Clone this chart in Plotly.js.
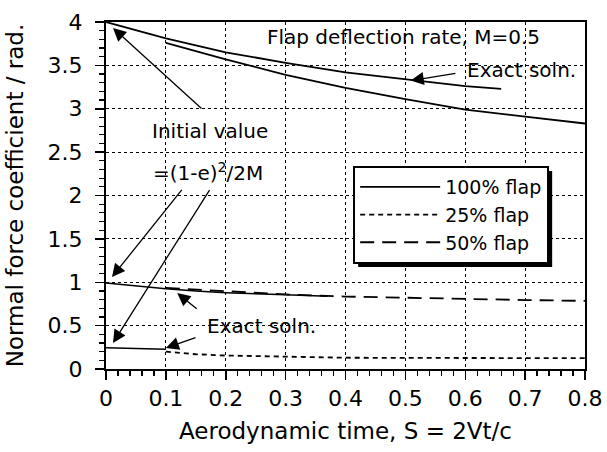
<!DOCTYPE html>
<html>
<head>
<meta charset="utf-8">
<script src="https://cdn.plot.ly/plotly-3.0.1.min.js"></script>
<style>
  html, body { margin: 0; padding: 0; background: #fff; }
  #chart { width: 607px; height: 452px; }
</style>
</head>
<body>
<div id="chart"></div>
<script>
// ---- data ----
// 100% flap: exact solution (from S=0) and approximation (from S=0.1)
var exact100X = [0, 0.1, 0.2, 0.3, 0.4, 0.5, 0.6, 0.66];
var exact100Y = [4.0, 3.81, 3.65, 3.53, 3.42, 3.34, 3.26, 3.23];
var flap100X = [0.1, 0.2, 0.3, 0.4, 0.5, 0.6, 0.7, 0.8];
var flap100Y = [3.76, 3.57, 3.39, 3.24, 3.11, 2.99, 2.91, 2.83];

// 50% flap
var exact50X = [0, 0.05, 0.1, 0.15, 0.2, 0.3, 0.37];
var exact50Y = [0.99, 0.955, 0.925, 0.9, 0.88, 0.855, 0.84];
var flap50X = [0.1, 0.2, 0.3, 0.4, 0.5, 0.6, 0.7, 0.8];
var flap50Y = [0.935, 0.895, 0.86, 0.835, 0.82, 0.805, 0.795, 0.785];

// 25% flap
var exact25X = [0, 0.05, 0.1];
var exact25Y = [0.245, 0.235, 0.228];
var flap25X = [0.1, 0.15, 0.2, 0.3, 0.4, 0.5, 0.6, 0.7, 0.8];
var flap25Y = [0.2, 0.17, 0.155, 0.14, 0.13, 0.128, 0.126, 0.125, 0.125];

var legendNames = ["100% flap", "25% flap", "50% flap"];
var xTitle = "Aerodynamic time, S = 2Vt/c";
var yTitle = "Normal force coefficient / rad.";

var FONT = "DejaVu Sans, Liberation Sans, Arial, sans-serif";
var black = "#000";

var traces = [
  {x: flap100X, y: flap100Y, name: legendNames[0], mode: "lines",
   line: {color: black, width: 1.8, dash: "solid"}},
  {x: flap25X, y: flap25Y, name: legendNames[1], mode: "lines",
   line: {color: black, width: 1.8, dash: "5px,4px"}},
  {x: flap50X, y: flap50Y, name: legendNames[2], mode: "lines",
   line: {color: black, width: 1.8, dash: "14px,8px"}},
  {x: exact100X, y: exact100Y, mode: "lines", showlegend: false,
   line: {color: black, width: 1.8}},
  {x: exact50X, y: exact50Y, mode: "lines", showlegend: false,
   line: {color: black, width: 1.5}},
  {x: exact25X, y: exact25Y, mode: "lines", showlegend: false,
   line: {color: black, width: 1.5}}
];

function arrow(tx, ty, fx, fy) {
  return {x: tx, y: ty, ax: fx, ay: fy, xref: "x", yref: "y", axref: "x", ayref: "y",
          text: " ", showarrow: true, arrowhead: 2, arrowsize: 2, arrowwidth: 1.3,
          arrowcolor: black, standoff: 0, font: {size: 1}};
}
function label(txt, x, y) {
  return {x: x, y: y, xref: "x", yref: "y", text: txt, showarrow: false,
          xanchor: "center", yanchor: "middle", font: {family: FONT, size: 20, color: black}};
}

var ML = 106, MR = 22, MT = 22, MB = 83, W = 607, H = 452;

var layout = {
  width: W, height: H,
  margin: {l: ML, r: MR, t: MT, b: MB, pad: 0},
  paper_bgcolor: "#fff", plot_bgcolor: "#fff",
  font: {family: FONT, color: black},
  showlegend: true,
  legend: {
    x: 0.516, y: 0.585, xanchor: "left", yanchor: "top",
    bgcolor: "#fff", bordercolor: black, borderwidth: 2,
    font: {family: FONT, size: 19, color: black},
    itemwidth: 80, tracegroupgap: 0
  },
  xaxis: {
    range: [0, 0.8], dtick: 0.1, tick0: 0,
    showline: true, linecolor: black, linewidth: 2, mirror: true,
    ticks: "outside", ticklen: 9, tickwidth: 1.5, tickcolor: black,
    ticklabelstandoff: 0,
    tickfont: {family: FONT, size: 22, color: black},
    showgrid: true, gridcolor: black, gridwidth: 1, griddash: "dot",
    zeroline: false,
    minor: {dtick: 0.02, ticks: "outside", ticklen: 5, tickwidth: 1.2, tickcolor: black, showgrid: false},
    title: {text: xTitle, font: {family: FONT, size: 23, color: black}, standoff: 12}
  },
  yaxis: {
    range: [0, 4], dtick: 0.5, tick0: 0,
    showline: true, linecolor: black, linewidth: 2, mirror: true,
    ticks: "outside", ticklen: 9, tickwidth: 1.5, tickcolor: black,
    ticklabelstandoff: 8,
    tickfont: {family: FONT, size: 22, color: black},
    showgrid: true, gridcolor: black, gridwidth: 1, griddash: "dot",
    zeroline: false,
    minor: {dtick: 0.1, ticks: "outside", ticklen: 5, tickwidth: 1.2, tickcolor: black, showgrid: false},
    title: {text: yTitle, font: {family: FONT, size: 23, color: black}, standoff: 18}
  },
  annotations: [
    label("Flap deflection rate, M=0.5", 0.497, 3.83),
    label("Exact soln.", 0.694, 3.452),
    label("Initial value", 0.173, 2.738),
    label("=(1-e)<sup>2</sup>/2M", 0.170, 2.27),
    label("Exact soln.", 0.2605, 0.49),
    arrow(0.0117, 3.93, 0.162, 2.986),
    arrow(0.010, 1.06, 0.129, 2.086),
    arrow(0.0117, 0.30, 0.175, 2.086),
    arrow(0.119, 0.876, 0.154, 0.68),
    arrow(0.1, 0.242, 0.152, 0.369),
    arrow(0.509, 3.325, 0.586, 3.41)
  ]
};

var gd = document.getElementById("chart");
Plotly.newPlot(gd, traces, layout, {displayModeBar: false, staticPlot: true}).then(function () {
  // drop shadow behind the legend box, sized from the rendered legend
  var bg = gd.querySelector(".legend .bg");
  if (!bg) return;
  var r = bg.getBoundingClientRect();
  var c = gd.getBoundingClientRect();
  var off = 4;
  var pw = W - ML - MR, ph = H - MT - MB;
  var x0 = (r.left - c.left + off - ML) / pw, x1 = (r.right - c.left + off - ML) / pw;
  var y1 = (H - MB - (r.top - c.top + off)) / ph, y0 = (H - MB - (r.bottom - c.top + off)) / ph;
  return Plotly.relayout(gd, {shapes: [{type: "rect", xref: "paper", yref: "paper",
    x0: x0, x1: x1, y0: y0, y1: y1, fillcolor: black, line: {width: 0}, layer: "above"}]});
});
</script>
</body>
</html>
